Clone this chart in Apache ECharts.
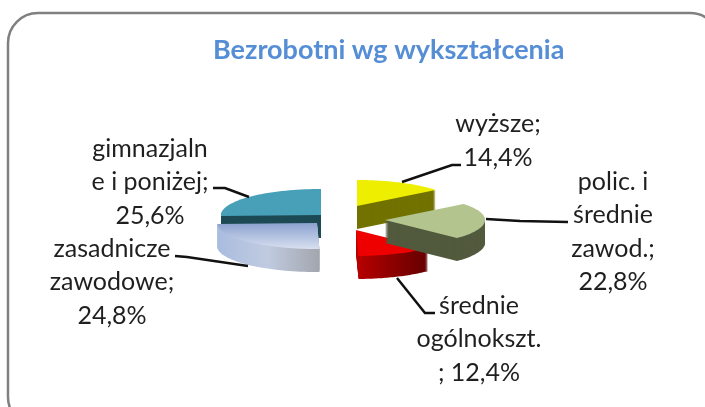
<!DOCTYPE html>
<html>
<head>
<meta charset="utf-8">
<style>
  html, body { margin: 0; padding: 0; background: #fff; }
  #main { width: 705px; height: 407px; }
</style>
<script src="https://cdn.jsdelivr.net/npm/echarts@6/dist/echarts.min.js"></script>
</head>
<body>
<div id="main"></div>
<script>
// Bezrobotni wg wykształcenia
var categories = ["wyższe", "polic. i średnie zawod.", "średnie ogólnokszt.", "zasadnicze zawodowe", "gimnazjalne i poniżej"];
var values = [14.4, 22.8, 12.4, 24.8, 25.6];
var labels = [
  "wyższe;\n14,4%",
  "polic. i\nśrednie\nzawod.;\n22,8%",
  "średnie\nogólnokszt.\n; 12,4%",
  "zasadnicze\nzawodowe;\n24,8%",
  "gimnazjaln\ne i poniżej;\n25,6%"
];

// drawn back to front, the slices overlap
var drawOrder = [4, 3, 0, 2, 1];

// the pie is squashed and pulled apart, so every slice has its own apex
var rx = 100, ry = 26, depth = 23;
var apex = [[357, 206], [385, 220], [356, 230], [317, 223], [321, 215]];
var labelPos = [[498, 141], [613, 232], [479, 339], [112, 282], [150, 182]];
var leaders = [
  [[402, 182], [452, 165], [461, 165]],
  [[486, 219], [520, 221], [568, 222]],
  [[397, 278], [425, 313], [435, 313]],
  [[248, 266], [187, 257], [175, 256]],
  [[249, 197], [225, 188], [213, 188]]
];

function grad(x0, y0, x1, y1, c0, c1, c2) {
  var stops = c2
    ? [{ offset: 0, color: c0 }, { offset: 0.5, color: c1 }, { offset: 1, color: c2 }]
    : [{ offset: 0, color: c0 }, { offset: 1, color: c1 }];
  return new echarts.graphic.LinearGradient(x0, y0, x1, y1, stops, true);
}

var topFill = [
  "#eeee00",
  "#b3c48f",
  "#ee0000",
  grad(0, 224, 0, 250, "#8ea4d0", "#dbe2f1"),
  "#47a0b8"
];
var sideFill = [
  "#727200",
  "#525a3e",
  grad(356, 0, 428, 0, "#b80000", "#640000"),
  grad(216, 0, 320, 0, "#a9bcdf", "#c0cbe0", "#a2a5ad"),
  "#1d4a54"
];

function slicePoints(i) {
  var sum = 0;
  for (var k = 0; k < i; k++) sum += values[k];
  var a0 = (sum / 100) * Math.PI * 2;
  var a1 = ((sum + values[i]) / 100) * Math.PI * 2;
  var pts = [apex[i]];
  var steps = 40;
  for (var s = 0; s <= steps; s++) {
    var a = a0 + ((a1 - a0) * s) / steps;
    pts.push([apex[i][0] + rx * Math.sin(a), apex[i][1] - ry * Math.cos(a)]);
  }
  return pts;
}

function renderSlice(params, api) {
  var i = api.value(0);
  var pts = slicePoints(i);
  var children = [];
  // side wall: the top outline repeated downwards
  for (var d = depth; d >= 1; d--) {
    children.push({
      type: "polygon",
      shape: { points: pts.map(function (p) { return [p[0], p[1] + d]; }) },
      style: { fill: sideFill[i] }
    });
  }
  children.push({ type: "polygon", shape: { points: pts }, style: { fill: topFill[i] } });
  children.push({
    type: "polyline",
    shape: { points: leaders[i] },
    style: { fill: null, stroke: "#111", lineWidth: 2.5 }
  });
  children.push({
    type: "text",
    x: labelPos[i][0],
    y: labelPos[i][1],
    style: {
      text: labels[i],
      fill: "#1f1f1f",
      font: "25px Lato",
      lineHeight: 33.5,
      align: "center",
      verticalAlign: "middle"
    }
  });
  return { type: "group", children: children };
}

var myChart = echarts.init(document.getElementById("main"), null, { renderer: "canvas" });
var option = {
  animation: false,
  backgroundColor: "#fff",
  title: {
    text: "Bezrobotni wg wykształcenia",
    left: 208,
    top: 32,
    textStyle: { color: "#558ed5", fontSize: 27, fontWeight: "bold", fontFamily: "Lato" }
  },
  graphic: [
    {
      type: "rect",
      shape: { x: 8, y: 13, width: 712, height: 414, r: 30 },
      style: { fill: "none", stroke: "#808080", lineWidth: 2.5 },
      silent: true
    }
  ],
  series: [
    {
      name: "Bezrobotni wg wykształcenia",
      type: "custom",
      coordinateSystem: "none",
      silent: true,
      renderItem: renderSlice,
      data: drawOrder.map(function (i) {
        return { name: categories[i], value: [i, values[i]] };
      })
    }
  ]
};
myChart.setOption(option);
</script>
</body>
</html>
